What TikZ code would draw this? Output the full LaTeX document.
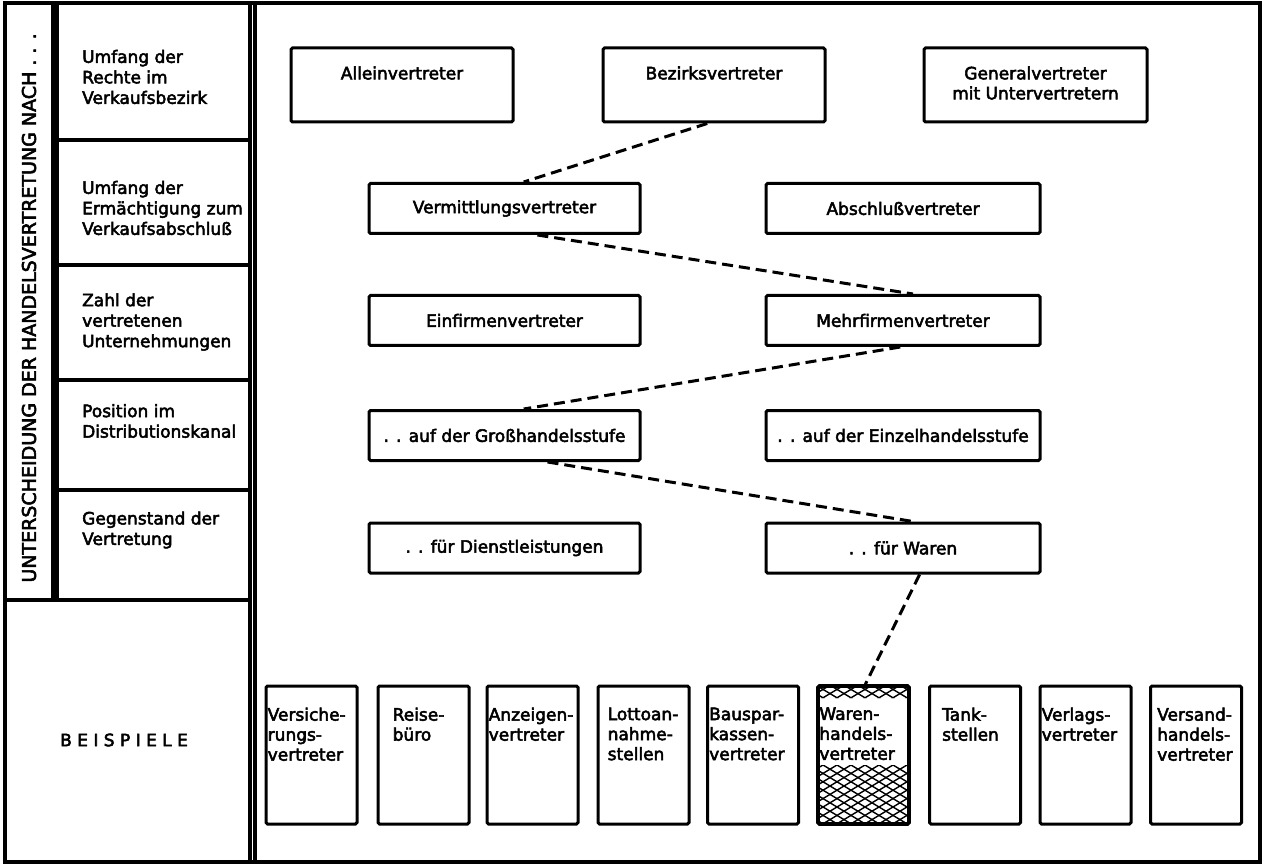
\documentclass[tikz,border=0pt]{standalone}
\usepackage{fontspec}
\setmainfont{DejaVu Sans}[FakeBold=3]
\usetikzlibrary{calc}
\tikzset{
  rule/.style={line width=3.2pt},
  box/.style={draw, rectangle, line width=3pt, rounded corners=1.5pt, inner sep=0pt},
  link/.style={line width=3pt, dash pattern=on 11pt off 6pt},
  lbl/.style={font=\fontsize{17}{20.5}\selectfont, align=left, inner sep=0pt},
  ctr/.style={font=\fontsize{17}{20}\selectfont, align=center, inner sep=0pt},
  ex/.style={font=\fontsize{17}{20}\selectfont, align=left, inner sep=0pt, anchor=north west},
  mesh/.style={line width=1.4pt},
  rowbox/.style={box, ctr, minimum height=50pt},
  leftbox/.style={rowbox, minimum width=271pt},
  rightbox/.style={rowbox, minimum width=274pt},
  topbox/.style={box, minimum width=222pt, minimum height=74pt},
  exbox/.style={box, minimum width=91pt, minimum height=138pt},
}
\begin{document}
\begin{tikzpicture}[x=1pt, y=-1pt]
\useasboundingbox (0,0) rectangle (1263,866);

% frame of the table
\draw[rule] (5,3) rectangle (1260,862);
\draw[rule] (250,3) -- (250,862);
\draw[rule] (255,3) -- (255,862);
\draw[rule] (53,3) -- (53,600);
\draw[rule] (57,3) -- (57,600);
\foreach \yy in {140,265,380,490} \draw[rule] (57,\yy) -- (250,\yy);
\draw[rule] (5,600) -- (250,600);

% left header column
\node[rotate=90, inner sep=0pt, font=\fontsize{19}{19}\selectfont] (side) at (29,308)
  {UNTERSCHEIDUNG DER HANDELSVERTRETUNG NACH . . .};
\node[lbl, anchor=west] (c1) at (82,77) {Umfang der\\Rechte im\\Verkaufsbezirk};
\node[lbl, anchor=west] (c2) at (82,208) {Umfang der\\Ermächtigung zum\\Verkaufsabschluß};
\node[lbl, anchor=west] (c3) at (82,322) {Zahl der\\vertretenen\\Unternehmungen};
\node[lbl, anchor=west] (c4) at (82,421) {Position im\\Distributionskanal};
\node[lbl, anchor=west] (c5) at (82,530) {Gegenstand der\\Vertretung};
\node[anchor=west, inner sep=0pt, font=\fontsize{17}{17}\selectfont] (beisp) at (60,740) {B E I S P I E L E};

% row 1
\node[topbox] (allein) at (402,85) {};
\node[topbox] (bezirk) at (714,85) {};
\node[topbox, minimum width=223pt] (general) at (1035.5,85) {};
\node[ctr] (tallein) at ($(allein.center)+(0,-12)$) {Alleinvertreter};
\node[ctr] (tbezirk) at ($(bezirk.center)+(0,-12)$) {Bezirksvertreter};
\node[ctr] (tgeneral) at ($(general.center)+(0,-2)$) {Generalvertreter\\mit Untervertretern};

% rows 2 to 5
\node[leftbox]  (verm)   at (504.5,208.5) {Vermittlungsvertreter};
\node[rightbox] (absch)  at (903,208.5)   {Abschlußvertreter};
\node[leftbox]  (einf)   at (504.5,320.5) {Einfirmenvertreter};
\node[rightbox] (mehrf)  at (903,320.5)   {Mehrfirmenvertreter};
\node[leftbox]  (gross)  at (504.5,435.5) {. . auf der Großhandelsstufe};
\node[rightbox] (einzel) at (903,435.5)   {. . auf der Einzelhandelsstufe};
\node[leftbox]  (dienst) at (504.5,548)   {. . für Dienstleistungen};
\node[rightbox] (waren)  at (903,548)     {. . für Waren};

% examples
\node[exbox] (b1) at (311.5,755) {};
\node[exbox] (b2) at (423.5,755) {};
\node[exbox] (b3) at (532.5,755) {};
\node[exbox] (b4) at (643.5,755) {};
\node[exbox] (b5) at (753,755) {};
\node[exbox] (b7) at (975,755) {};
\node[exbox] (b8) at (1085.5,755) {};
\node[exbox] (b9) at (1196,755) {};

% hatched example box
\begin{scope}
  \clip (819,686) rectangle (908,698) (819,765) rectangle (908,824);
  \foreach \k in {480,494,...,1250} {
    \draw[mesh] (\k,660) -- ++(330,198);
    \draw[mesh] (\k,660) -- ++(-330,198);
  }
\end{scope}
\node[exbox, line width=3.6pt] (b6) at (863.5,755) {};

\node[ex] (t1) at ($(b1.north west)+(3,23)$) {Versiche-\\rungs-\\vertreter};
\node[ex] (t2) at ($(b2.north west)+(16,23)$) {Reise-\\büro};
\node[ex] (t3) at ($(b3.north west)+(3,23)$) {Anzeigen-\\vertreter};
\node[ex] (t4) at ($(b4.north west)+(11,23)$) {Lottoan-\\nahme-\\stellen};
\node[ex] (t5) at ($(b5.north west)+(3,23)$) {Bauspar-\\kassen-\\vertreter};
\node[ex] (t6) at ($(b6.north west)+(3,23)$) {Waren-\\handels-\\vertreter};
\node[ex] (t7) at ($(b7.north west)+(14,23)$) {Tank-\\stellen};
\node[ex] (t8) at ($(b8.north west)+(3,23)$) {Verlags-\\vertreter};
\node[ex] (t9) at ($(b9.north west)+(8,23)$) {Versand-\\handels-\\vertreter};

% dashed path through the classification
\draw[link] ($(bezirk.south west)!0.47!(bezirk.south east)$) -- ($(verm.north west)!0.57!(verm.north east)$);
\draw[link] ($(verm.south west)!0.62!(verm.south east)$) -- ($(mehrf.north west)!0.536!(mehrf.north east)$);
\draw[link] ($(mehrf.south west)!0.49!(mehrf.south east)$) -- ($(gross.north west)!0.57!(gross.north east)$);
\draw[link] ($(gross.south west)!0.657!(gross.south east)$) -- ($(waren.north west)!0.536!(waren.north east)$);
\draw[link] ($(waren.south west)!0.56!(waren.south east)$) -- ($(b6.north west)!0.52!(b6.north east)$);
\end{tikzpicture}
\end{document}
